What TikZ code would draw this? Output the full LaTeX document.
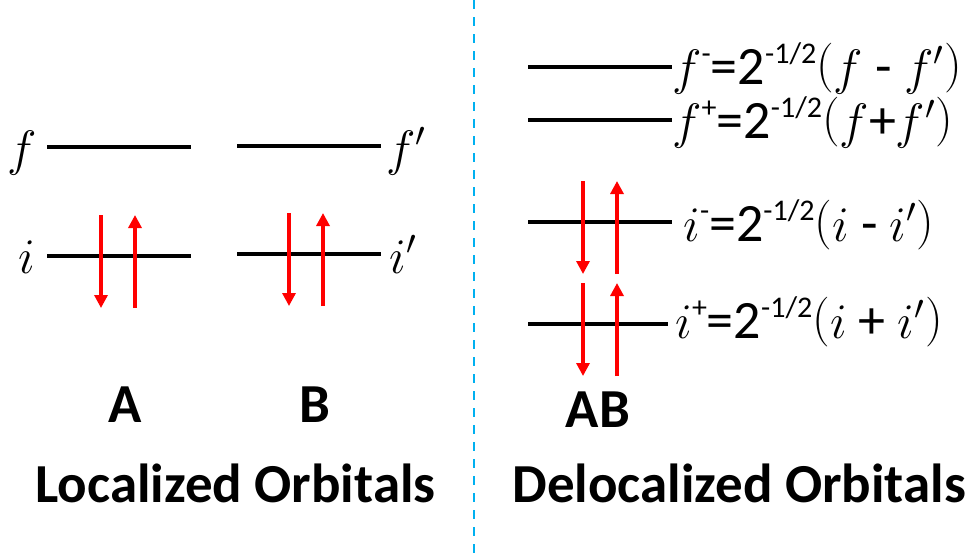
\documentclass[tikz,border=0pt]{standalone}
\usepackage{fontspec}
\setmainfont{Carlito}
\usepackage{tikz}
\usetikzlibrary{arrows.meta,positioning}
\definecolor{divblue}{RGB}{0,176,240}
\newcommand{\mth}[1]{{\fontsize{26}{26}\selectfont$#1$}}
\newcommand{\br}[1]{\raisebox{2pt}{\fontsize{23}{23}\selectfont$#1$}}
\newcommand{\hi}[1]{\raisebox{10.5pt}{\fontsize{15}{15}\selectfont #1}}
\tikzset{level/.style={line width=1.8pt},
  spin/.style={red, line width=1.6pt, -{Triangle[length=6.5pt,width=6.5pt]}},
  orb/.style={inner sep=0pt, font=\fontsize{26}{26}\selectfont},
  eq/.style={inner sep=0pt, anchor=base west, font=\fontsize{27}{27}\selectfont},
  tag/.style={inner sep=0pt, anchor=base, font=\bfseries\fontsize{27.5}{27.5}\selectfont},
  title/.style={inner sep=0pt, anchor=base west, font=\bfseries\fontsize{27.5}{27.5}\selectfont}}

\begin{document}
\begin{tikzpicture}[x=0.5pt, y=-0.5pt]
\useasboundingbox (0,0) rectangle (968,554);

% localized levels
\draw[level] (47,147) -- (191,147);
\draw[level] (237,146) -- (381,146);
\draw[level] (47,256) -- (191,256);
\draw[level] (237,254) -- (381,254);
\node[orb, anchor=base east] (lf) at (37,165) {$f$};
\node[orb, anchor=base east] (li) at (36,273) {$i$};
\node[orb, anchor=base west] (lfp) at (386,165) {$f'$};
\node[orb, anchor=base west] (lip) at (389,273) {$i'$};

% delocalized levels
\draw[level] (528,67) -- (672,67);
\draw[level] (528,120) -- (672,120);
\draw[level] (528,222) -- (672,222);
\draw[level] (528,324) -- (668,324);
\node[eq] (fm) at (672,84) {\mth{f}\hi{-}=2\hi{-1/2}\br{(}\mth{f}~-~\mth{f'}\br{)}};
\node[eq] (fp) at (672,138) {\mth{f}\hi{+}=2\hi{-1/2}\br{(}\mth{f}+\mth{f'}\br{)}};
\node[eq] (im) at (683,241) {\mth{i}\hi{-}=2\hi{-1/2}\br{(}\mth{i}~-~\mth{i'}\br{)}};
\node[eq] (ip) at (675,338) {\mth{i}\hi{+}=2\hi{-1/2}\br{(}\mth{i}~+~\mth{i'}\br{)}};

% electron pairs
\foreach \x/\y in {101/256, 289/254, 583/222, 583/324} {
  \draw[spin] (\x,\y-41) -- (\x,\y+52);
  \draw[spin] (\x+34,\y+52) -- (\x+34,\y-41);
}

\node[tag] (A) at (125,422) {A};
\node[tag] (B) at (315,422) {B};
\node[tag] (AB) at (598,427) {AB};
\node[title] (loc) at (35,502) {Localized Orbitals};
\node[title] (deloc) at (512,502) {Delocalized Orbitals};

\draw[divblue, line width=1.3pt, dash pattern=on 4.5pt off 4pt] (474,0) -- (474,554);
\end{tikzpicture}
\end{document}
